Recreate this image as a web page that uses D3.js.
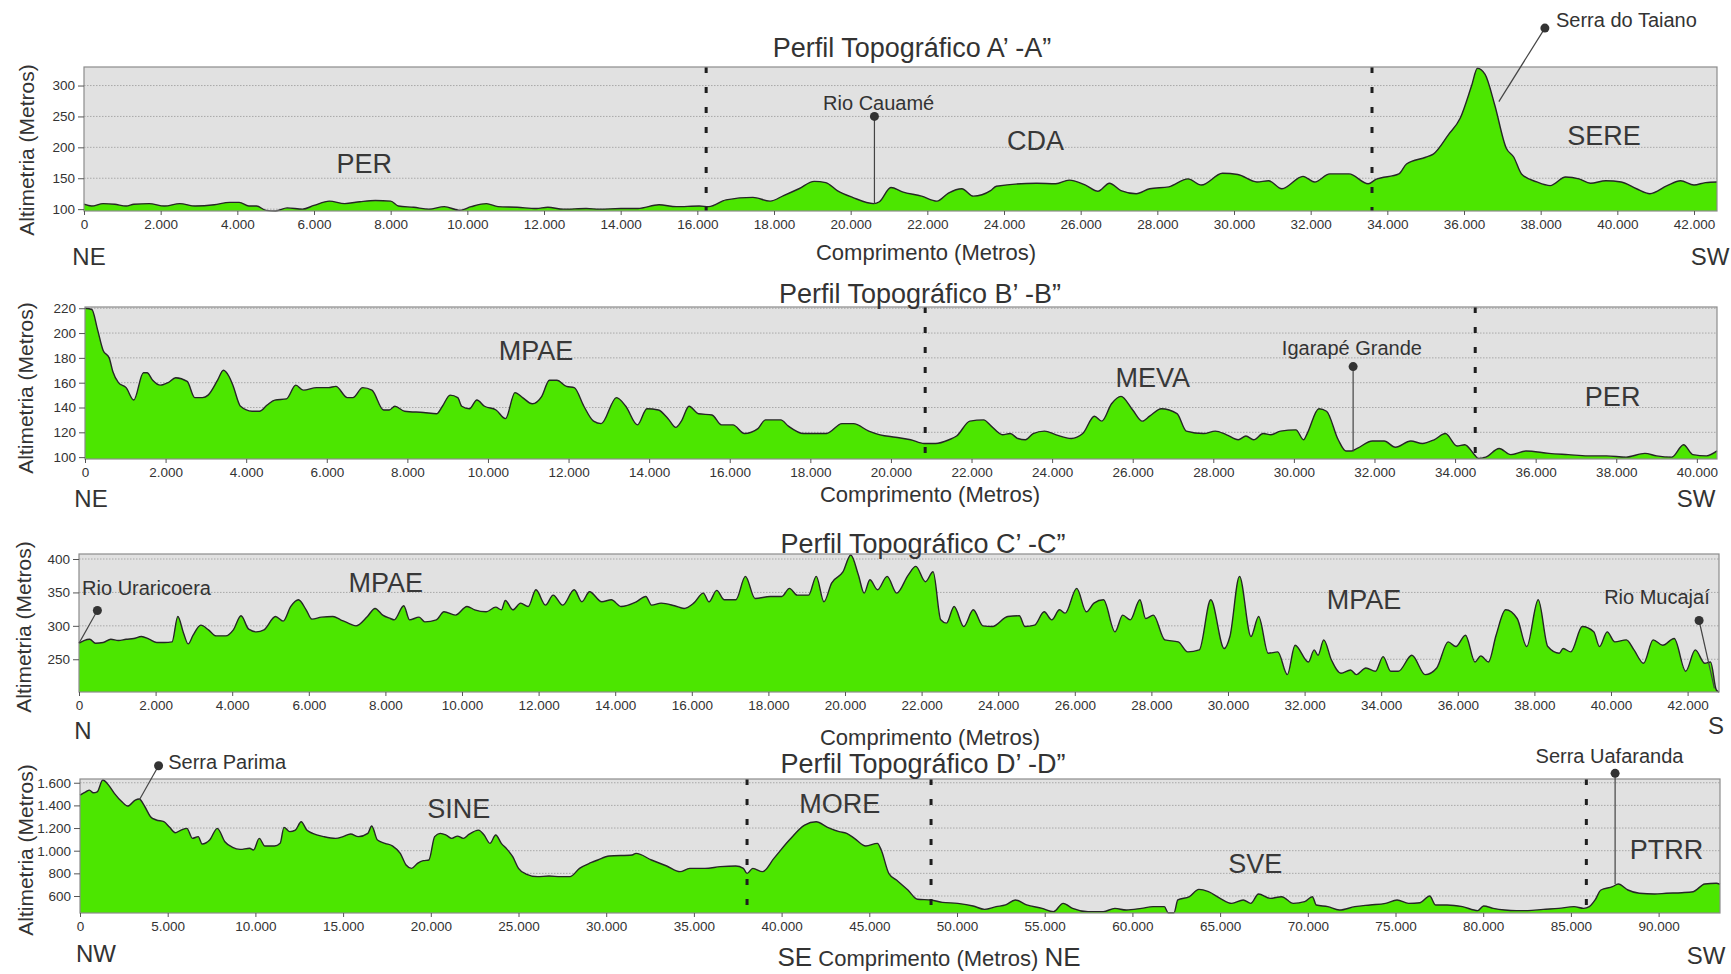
<!DOCTYPE html>
<html>
<head>
<meta charset="utf-8">
<script src="https://cdn.jsdelivr.net/npm/d3@7"></script>
<style>
body { margin: 0; background: #fff; }
svg { display: block; font-family: "Liberation Sans", Arial, sans-serif; }
</style>
</head>
<body>
<svg id="chart" width="1731" height="974"></svg>
<script>
// distance (m), elevation (m)
var profileA = [[0,108],[200,105],[500,109],[800,108],[1100,105],[1300,108],[1700,109],[2100,105],[2500,109],[2900,105],[3400,107],[3800,111],[4050,111],[4300,105],[4500,105],[4750,98],[5000,97],[5300,102],[5700,100],[6000,106],[6400,113],[6800,109],[7200,112],[7600,114],[8000,113],[8200,105],[8600,103],[9000,100],[9400,104],[9800,98],[10100,104],[10500,109],[10800,104],[11300,103],[11800,101],[12100,103],[12500,100],[13100,101],[13450,100],[14000,101],[14450,101],[15000,107],[15450,104],[16050,105],[16300,104],[16750,115],[17450,119],[17900,113],[18250,122],[18650,133],[19050,145],[19350,143],[19650,130],[20050,119],[20600,109],[20750,112],[21050,135],[21350,128],[21850,121],[22250,113],[22550,126],[22900,133],[23200,121],[23650,130],[23800,137],[24850,142],[25350,141],[25700,147],[26150,138],[26450,129],[26750,142],[27050,130],[27450,125],[27800,133],[28300,136],[28800,149],[29150,139],[29700,158],[30100,156],[30600,144],[30900,146],[31250,133],[31800,153],[32100,144],[32500,157],[33000,157],[33500,141],[33700,148],[34300,157],[34500,173],[35000,184],[35200,189],[35600,221],[35900,247],[36200,300],[36350,328],[36550,318],[36800,269],[37100,199],[37300,184],[37500,157],[37900,144],[38250,138],[38650,152],[39000,149],[39300,142],[39700,146],[40100,144],[40500,133],[40850,125],[41300,138],[41650,146],[42000,139],[42300,143],[42600,144]];

var profileB = [[0,220],[170,219],[310,203],[450,186],[600,180],[690,169],[830,160],[1020,156],[1210,146],[1450,168],[1540,168],[1680,162],[1870,158],[2060,160],[2250,164],[2535,161],[2725,148],[2915,148],[3055,150],[3290,162],[3435,170],[3575,165],[3670,158],[3860,141],[4145,137],[4330,137],[4520,142],[4710,146],[5000,147],[5230,158],[5420,154],[5750,156],[6040,156],[6225,157],[6510,148],[6650,148],[6890,156],[7120,154],[7410,138],[7550,138],[7690,141],[7930,137],[8400,136],[8730,135],[8870,141],[9060,150],[9250,148],[9350,141],[9540,139],[9725,146],[9915,141],[10200,138],[10435,131],[10670,152],[10860,148],[11100,143],[11335,149],[11525,162],[11710,162],[11950,157],[12140,156],[12380,141],[12620,129],[12810,127],[13190,148],[13420,141],[13710,126],[13945,139],[14230,138],[14470,131],[14660,124],[14800,129],[14990,141],[15225,135],[15560,134],[15795,126],[16080,126],[16365,119],[16700,123],[16885,130],[17265,130],[17455,125],[17835,119],[18400,119],[18785,127],[19070,127],[19450,121],[19730,118],[20110,116],[20490,114],[20825,111],[21110,111],[21440,114],[21630,117],[21960,129],[22300,130],[22490,125],[22770,118],[22960,119],[23150,115],[23340,114],[23530,119],[23810,121],[24100,118],[24475,115],[24760,119],[25050,133],[25235,129],[25475,143],[25710,149],[26000,138],[26240,129],[26420,133],[26710,139],[27100,135],[27330,121],[27760,119],[28050,121],[28330,118],[28620,114],[28810,117],[29000,114],[29240,119],[29430,118],[29670,121],[30050,122],[30240,114],[30330,119],[30620,139],[30810,137],[31100,114],[31290,105],[31430,105],[31570,107],[31950,113],[32240,113],[32520,108],[32900,113],[33190,111],[33480,114],[33760,119],[34050,109],[34240,110],[34480,102],[34570,99],[34760,100],[35095,107],[35380,102],[35760,105],[36330,103],[36810,102],[37290,101],[37760,101],[38240,100],[38710,103],[39000,101],[39380,100],[39670,110],[39900,102],[40240,101],[40500,105]];

var profileC = [[0,274],[130,278],[280,280],[430,274],[630,275],[830,280],[1030,278],[1230,280],[1430,281],[1630,284],[1830,280],[2030,275],[2230,275],[2430,276],[2580,314],[2730,289],[2850,273],[2980,286],[3180,301],[3380,294],[3580,285],[3830,285],[4030,294],[4230,315],[4430,295],[4630,291],[4830,294],[5130,314],[5330,307],[5530,329],[5730,339],[5930,324],[6080,310],[6330,313],[6630,314],[6830,309],[7030,304],[7230,300],[7530,314],[7730,326],[7930,316],[8130,311],[8230,309],[8480,330],[8630,309],[8880,313],[9030,306],[9330,309],[9530,321],[9830,316],[10130,329],[10330,324],[10630,321],[10880,328],[11030,324],[11130,338],[11330,324],[11530,334],[11730,329],[11930,354],[12180,331],[12380,346],[12630,331],[12930,354],[13130,336],[13330,351],[13650,336],[13900,339],[14150,329],[14550,336],[14800,344],[14950,331],[15200,334],[15550,330],[15800,326],[16050,334],[16300,349],[16450,336],[16650,353],[16850,339],[17150,339],[17400,374],[17650,341],[18050,344],[18350,344],[18550,356],[18750,346],[19050,346],[19250,374],[19450,336],[19650,364],[19950,381],[20150,406],[20350,376],[20500,349],[20650,369],[20850,354],[21100,374],[21350,349],[21650,376],[21850,389],[22100,366],[22300,381],[22500,309],[22650,304],[22850,329],[23100,299],[23350,324],[23600,300],[23850,299],[24250,314],[24550,315],[24700,299],[24950,301],[25200,321],[25400,309],[25600,324],[25750,319],[26050,356],[26300,321],[26500,334],[26750,339],[27050,291],[27250,316],[27450,309],[27700,339],[27850,311],[28050,316],[28350,279],[28700,276],[28950,261],[29250,264],[29550,339],[29900,266],[30050,284],[30300,374],[30600,284],[30800,314],[31050,259],[31300,261],[31550,227],[31750,271],[32100,246],[32250,264],[32350,256],[32500,279],[32700,249],[32950,229],[33200,234],[33350,227],[33600,237],[33850,232],[34050,254],[34250,232],[34450,232],[34800,256],[35150,227],[35450,237],[35750,276],[35950,269],[36200,286],[36450,246],[36600,255],[36800,246],[37000,286],[37250,324],[37550,311],[37800,269],[38100,339],[38350,269],[38650,259],[38750,266],[38950,261],[39250,299],[39550,291],[39700,269],[39900,291],[40100,276],[40400,279],[40600,264],[40850,244],[41100,279],[41350,271],[41650,281],[41950,232],[42200,264],[42450,244],[42600,246],[42750,204],[42820,201]];

var profileD = [[0,1491],[330,1520],[540,1535],[760,1512],[980,1520],[1300,1624],[1630,1579],[1960,1506],[2390,1432],[2720,1394],[3150,1447],[3370,1456],[3700,1388],[4020,1300],[4350,1271],[4780,1256],[5110,1206],[5430,1159],[5760,1182],[6090,1197],[6410,1109],[6740,1124],[6960,1059],[7390,1094],[7830,1197],[8260,1079],[8700,1029],[9130,1012],[9670,1021],[9890,1006],[10220,1109],[10540,1041],[11090,1041],[11410,1065],[11630,1206],[11960,1168],[12280,1182],[12610,1256],[12930,1182],[13260,1153],[13910,1124],[14570,1109],[15000,1124],[15430,1147],[15870,1124],[16410,1153],[16630,1218],[16960,1094],[17390,1065],[17830,1041],[18260,976],[18590,874],[18910,844],[19240,888],[19570,912],[19890,918],[20220,1124],[20540,1153],[20870,1138],[21200,1109],[21520,1129],[21850,1109],[22170,1144],[22720,1182],[23040,1138],[23370,1065],[23700,1138],[24020,1065],[24350,1012],[24670,947],[25000,844],[25430,794],[26090,771],[26740,776],[27390,771],[27930,771],[28480,844],[29130,894],[29520,918],[30170,953],[31480,962],[31700,976],[32580,918],[33450,865],[34210,815],[34760,844],[35630,844],[36510,859],[37380,865],[37820,844],[38030,800],[38360,844],[38910,815],[39560,932],[40440,1094],[41310,1226],[41970,1256],[42620,1206],[43280,1168],[43710,1153],[44150,1109],[44800,1041],[45460,1065],[45680,1006],[46110,800],[46550,741],[47200,653],[47750,571],[48520,565],[49170,544],[50040,535],[50920,512],[51570,482],[52230,506],[52770,521],[53320,565],[53970,521],[54850,491],[55500,462],[56050,535],[56590,491],[57470,462],[58340,462],[59000,491],[59650,476],[60520,491],[61180,506],[61820,506],[62040,452],[62370,452],[62590,565],[63250,594],[63790,659],[64340,638],[65000,579],[65660,535],[66320,565],[66750,535],[67190,618],[67850,579],[68510,594],[69170,535],[69820,550],[70260,594],[70480,521],[71140,506],[71800,476],[72680,506],[73550,521],[74430,535],[75090,565],[75750,535],[76400,541],[76950,600],[77280,521],[77940,521],[78820,506],[79690,471],[80020,512],[80570,491],[81230,476],[81890,471],[82540,471],[83420,482],[84300,491],[85180,506],[85720,491],[86050,506],[86380,565],[86710,653],[87370,682],[87700,706],[88250,653],[88900,624],[89780,618],[90440,624],[91320,629],[91970,638],[92630,706],[93290,712],[93500,703]];

// axis domains and ticks
var xDomainA = [0, 42600], yDomainA = [97, 330];
var xDomainB = [0, 40500], yDomainB = [98.5, 221];
var xDomainC = [0, 42820], yDomainC = [201, 407.5];
var xDomainD = [0, 93500], yDomainD = [450, 1633];
var xTicksA = d3.range(0, 42001, 2000), yTicksA = [100, 150, 200, 250, 300];
var xTicksB = d3.range(0, 40001, 2000), yTicksB = [100, 120, 140, 160, 180, 200, 220];
var xTicksC = d3.range(0, 42001, 2000), yTicksC = [250, 300, 350, 400];
var xTicksD = d3.range(0, 90001, 5000), yTicksD = [600, 800, 1000, 1200, 1400, 1600];

// unit boundaries (m)
var dividersA = [16230, 33600];
var dividersB = [20850, 34500];
var dividersC = [];
var dividersD = [38030, 48520, 85880];

// unit names and their place (distance, elevation of baseline)
var regionsA = [["PER", 7310, 158], ["CDA", 24820, 196], ["SERE", 39650, 203]];
var regionsB = [["MPAE", 11190, 178], ["MEVA", 26500, 156.5], ["PER", 37910, 141]];
var regionsC = [["MPAE", 8010, 350.5], ["MPAE", 33550, 325.7]];
var regionsD = [["SINE", 21590, 1286], ["MORE", 43320, 1335], ["SVE", 67000, 806], ["PTRR", 90450, 926]];

// named places: text, text pos, dot pos, leader end
var notesA = [
  {text: "Rio Cauamé", t: [20730, 261], dot: [20620, 250], end: [20620, 109]},
  {text: "Serra do Taiano", t: [38400, 395], dot: [38110, 393], end: [36910, 274], start: true}
];
var notesB = [
  {text: "Igarapé Grande", t: [31440, 182], dot: [31470, 173], end: [31470, 104.5]}
];
var notesC = [
  {text: "Rio Uraricoera", t: [80, 345.5], dot: [480, 323], end: [0, 274], start: true},
  {text: "Rio Mucajaí", t: [41200, 333], dot: [42300, 308], end: [42700, 206.5]}
];
var notesD = [
  {text: "Serra Parima", t: [5030, 1718], dot: [4480, 1750], end: [3380, 1447], start: true},
  {text: "Serra Uafaranda", t: [87200, 1776], dot: [87520, 1683], end: [87520, 706]}
];

var fmt = d3.formatLocale({decimal: ",", thousands: ".", grouping: [3], currency: ["", ""]}).format(",d");

var svg = d3.select("#chart");

var panels = [
  {title: "Perfil Topográfico A’ -A”", profile: profileA, xd: xDomainA, yd: yDomainA, xt: xTicksA, yt: yTicksA,
   div: dividersA, reg: regionsA, notes: notesA,
   left: 84, right: 1717, top: 67, bottom: 211, titleX: 912, titleY: 57, axX: 926, axY: 260, ylX: 34, ylY: 150,
   dirs: [["NE", 89, 265], ["SW", 1710, 265]]},
  {title: "Perfil Topográfico B’ -B”", profile: profileB, xd: xDomainB, yd: yDomainB, xt: xTicksB, yt: yTicksB,
   div: dividersB, reg: regionsB, notes: notesB,
   left: 85, right: 1717, top: 307, bottom: 459, titleX: 920, titleY: 303, axX: 930, axY: 502, ylX: 33, ylY: 388,
   dirs: [["NE", 91, 507], ["SW", 1696, 507]]},
  {title: "Perfil Topográfico C’ -C”", profile: profileC, xd: xDomainC, yd: yDomainC, xt: xTicksC, yt: yTicksC,
   div: dividersC, reg: regionsC, notes: notesC,
   left: 79, right: 1719, top: 554, bottom: 692, titleX: 923, titleY: 553, axX: 930, axY: 745, ylX: 31, ylY: 627,
   dirs: [["N", 83, 739], ["S", 1716, 734]]},
  {title: "Perfil Topográfico D’ -D”", profile: profileD, xd: xDomainD, yd: yDomainD, xt: xTicksD, yt: yTicksD,
   div: dividersD, reg: regionsD, notes: notesD,
   left: 80, right: 1720, top: 779, bottom: 913, titleX: 923, titleY: 773, axX: 929, axY: 966, ylX: 33, ylY: 850,
   dirs: [["NW", 96, 962], ["SW", 1706, 964]], composite: true}
];

panels.forEach(drawPanel);

function drawPanel(p) {
  var x = d3.scaleLinear().domain(p.xd).range([p.left, p.right]);
  var y = d3.scaleLinear().domain(p.yd).range([p.bottom, p.top]);
  var g = svg.append("g");

  g.append("rect")
    .attr("x", p.left).attr("y", p.top)
    .attr("width", p.right - p.left).attr("height", p.bottom - p.top)
    .attr("fill", "#e1e1e1");

  g.selectAll(".grid").data(p.yt).enter().append("line")
    .attr("x1", p.left).attr("x2", p.right)
    .attr("y1", function (d) { return y(d); }).attr("y2", function (d) { return y(d); })
    .attr("stroke", "#9a9a9a").attr("stroke-width", 0.8).attr("stroke-dasharray", "1.5,1.5");

  var area = d3.area()
    .x(function (d) { return x(d[0]); })
    .y0(p.bottom)
    .y1(function (d) { return y(d[1]); })
    .curve(d3.curveMonotoneX);
  g.append("path").datum(p.profile).attr("d", area).attr("fill", "#4ce600");

  var line = d3.line()
    .x(function (d) { return x(d[0]); })
    .y(function (d) { return y(d[1]); })
    .curve(d3.curveMonotoneX);
  g.append("path").datum(p.profile).attr("d", line)
    .attr("fill", "none").attr("stroke", "#262626").attr("stroke-width", 1.4);

  g.selectAll(".div").data(p.div).enter().append("line")
    .attr("x1", function (d) { return x(d); }).attr("x2", function (d) { return x(d); })
    .attr("y1", p.top).attr("y2", p.bottom)
    .attr("stroke", "#1e1e1e").attr("stroke-width", 3).attr("stroke-dasharray", "6,14");

  g.append("rect")
    .attr("x", p.left).attr("y", p.top)
    .attr("width", p.right - p.left).attr("height", p.bottom - p.top)
    .attr("fill", "none").attr("stroke", "#8c8c8c").attr("stroke-width", 1.2);

  // axes
  var xa = g.append("g").attr("transform", "translate(0," + p.bottom + ")")
    .call(d3.axisBottom(x).tickValues(p.xt).tickFormat(fmt).tickSize(4).tickSizeOuter(0));
  var ya = g.append("g").attr("transform", "translate(" + p.left + ",0)")
    .call(d3.axisLeft(y).tickValues(p.yt).tickFormat(fmt).tickSize(6).tickSizeOuter(0));
  [xa, ya].forEach(function (a) {
    a.select(".domain").remove();
    a.selectAll("line").attr("stroke", "#555");
    a.selectAll("text").attr("fill", "#333").style("font-size", "13.5px").style("font-family", "Liberation Sans, Arial, sans-serif");
  });
  xa.selectAll("text").attr("y", 18).attr("dy", 0);
  ya.selectAll("text").attr("x", -9);

  // titles
  g.append("text").attr("x", p.titleX).attr("y", p.titleY)
    .attr("text-anchor", "middle").attr("fill", "#333").style("font-size", "27px").text(p.title);

  if (p.composite) {
    var t = g.append("text").attr("x", p.axX).attr("y", p.axY).attr("text-anchor", "middle").attr("fill", "#333");
    t.append("tspan").style("font-size", "26px").text("SE");
    t.append("tspan").style("font-size", "22px").text(" Comprimento (Metros) ");
    t.append("tspan").style("font-size", "26px").text("NE");
  } else {
    g.append("text").attr("x", p.axX).attr("y", p.axY)
      .attr("text-anchor", "middle").attr("fill", "#333").style("font-size", "22px").text("Comprimento (Metros)");
  }

  g.append("text").attr("transform", "translate(" + p.ylX + "," + p.ylY + ") rotate(-90)")
    .attr("text-anchor", "middle").attr("fill", "#333").style("font-size", "21px").text("Altimetria (Metros)");

  p.dirs.forEach(function (d) {
    g.append("text").attr("x", d[1]).attr("y", d[2])
      .attr("text-anchor", "middle").attr("fill", "#333").style("font-size", "24px").text(d[0]);
  });

  g.selectAll(".reg").data(p.reg).enter().append("text")
    .attr("x", function (d) { return x(d[1]); })
    .attr("y", function (d) { return y(d[2]); })
    .attr("text-anchor", "middle").attr("fill", "#383838").style("font-size", "27px")
    .text(function (d) { return d[0]; });

  p.notes.forEach(function (n) {
    g.append("line")
      .attr("x1", x(n.dot[0])).attr("y1", y(n.dot[1]))
      .attr("x2", x(n.end[0])).attr("y2", y(n.end[1]))
      .attr("stroke", "#444").attr("stroke-width", 1.2);
    g.append("circle").attr("cx", x(n.dot[0])).attr("cy", y(n.dot[1])).attr("r", 4.5).attr("fill", "#333");
    g.append("text").attr("x", x(n.t[0])).attr("y", y(n.t[1]))
      .attr("text-anchor", n.start ? "start" : "middle").attr("fill", "#333").style("font-size", "20px")
      .text(n.text);
  });
}
</script>
</body>
</html>
